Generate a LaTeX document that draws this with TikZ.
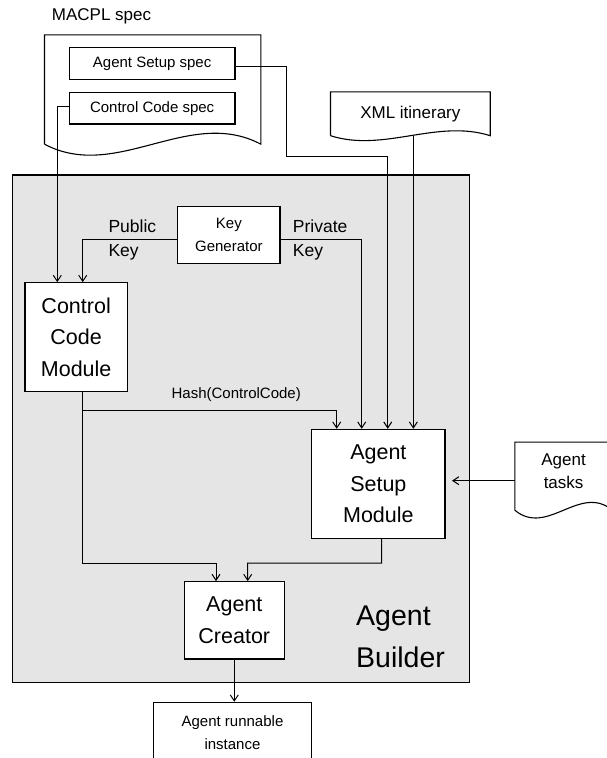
\documentclass[tikz,border=0pt]{standalone}
\usepackage{fontspec}
\setmainfont{Liberation Sans}
\usetikzlibrary{arrows.meta,calc}

\newcommand\txtS{\fontsize{15}{22.7}\selectfont}
\newcommand\txtD{\fontsize{17}{23.3}\selectfont}
\newcommand\txtK{\fontsize{17.5}{24.7}\selectfont}
\newcommand\txtM{\fontsize{21.5}{31.5}\selectfont}
\newcommand\txtB{\fontsize{28.5}{41.6}\selectfont}

% document outline with a wavy bottom: node, extra depth, wave control
\newcommand\docframe[3]{%
  \coordinate (#1-sw) at ([yshift=-#2pt]#1.south west);
  \coordinate (#1-se) at ([yshift=-#2pt]#1.south east);
  \draw[line width=1.1pt] (#1-sw) -- (#1.north west) -- (#1.north east) -- (#1-se)
    .. controls ($(#1-se)!0.333!(#1-sw)+(0,-#3)$) and ($(#1-se)!0.667!(#1-sw)+(0,#3)$) .. (#1-sw);
}

\begin{document}
\begin{tikzpicture}[x=1pt, y=-1pt,
        box/.style={draw, fill=white, line width=1.1pt, inner sep=0pt, align=center},
        docnode/.style={inner sep=0pt, align=center, font=\txtD},
        lbl/.style={inner sep=0pt, align=left, font=\txtK},
        arr/.style={-{Straight Barb[length=6pt,width=8pt]}, line width=1pt}]

    \useasboundingbox (0,0) rectangle (607,758);
    \clip (0,0) rectangle (607,758);

    \node[draw, fill=gray!20, line width=1.1pt, inner sep=0pt, minimum width=456.6, minimum height=507.5] (builder) at (241,428.75) {};
    \node[inner sep=0pt, align=left, font=\txtB, anchor=west] (buildlbl) at (356,637) {Agent\\Builder};

    \node[inner sep=0pt, font=\txtD, anchor=base west] (macpllbl) at (51.7,20.7) {MACPL spec};
    \node[docnode, minimum width=216, minimum height=109] (macpl) at (152.7,89.5) {};
    \docframe{macpl}{0}{38}
    \node[box, font=\txtS, minimum width=165.7, minimum height=31.6] (ass) at (152.15,63.5) {Agent Setup spec};
    \node[box, font=\txtS, minimum width=165.7, minimum height=31.3] (ccs) at (152.15,108.35) {Control Code spec};

    \node[docnode, minimum width=159.3, minimum height=43.5] (xml) at (410.35,113.75) {XML itinerary};
    \docframe{xml}{0}{17}
    \node[docnode, minimum width=97.2, minimum height=57.4] (tasks) at (563.6,471) {Agent\\tasks};
    \docframe{tasks}{10.3}{27}

    \node[box, font=\txtS, minimum width=102.3, minimum height=56.6] (kg)  at (228.85,235)  {Key\\Generator};
    \node[box, font=\txtM, minimum width=102.3, minimum height=109]  (ccm) at (76.15,337.2)  {Control\\Code\\Module};
    \node[box, font=\txtM, minimum width=133.3, minimum height=109]  (asm) at (378.35,483.8) {Agent\\Setup\\Module};
    \node[box, font=\txtM, minimum width=100, minimum height=77.3]   (ac)  at (234.3,620.35) {Agent\\Creator};
    \node[box, font=\txtS, minimum width=158.4, minimum height=61]   (runnable) at (232.5,732.8) {Agent runnable\\instance};

    \node[lbl, anchor=west] (pubkey)  at (108.3,239.9) {Public\\Key};
    \node[lbl, anchor=west] (privkey) at (292.7,239.9) {Private\\Key};
    \node[inner sep=0pt, font=\txtS, anchor=base] (hashlbl) at (236.2,398.3) {Hash(ControlCode)};

    \coordinate (bendA)    at (286,156);
    \coordinate (hashfork) at (82.7,410);
    \coordinate (joinL)    at (216,563);
    \coordinate (joinR)    at (381.7,563);
    \coordinate (tasksin)  at ([yshift=-9.7pt]tasks.west);

    \draw[arr] ([yshift=-3.2pt]ass.east) -| (bendA) -| ([xshift=9.4pt]asm.north);
    \draw[arr] ([yshift=2.3pt]ccs.west) -| ([xshift=-18.85pt]ccm.north);
    \draw[arr] ([xshift=3pt]xml.south) -- ([xshift=35pt]asm.north);
    \draw[arr] ([yshift=-4pt]kg.west) -| ([xshift=6.55pt]ccm.north);
    \draw[arr] ([yshift=-4pt]kg.east) -| ([xshift=-16.65pt]asm.north);
    \draw[arr] (hashfork) -| ([xshift=-41.65pt]asm.north);
    \draw[arr] ([xshift=6.55pt]ccm.south) |- (joinL) -- ([xshift=-18.3pt]ac.north);
    \draw[arr] ([xshift=3.35pt]asm.south) -- (joinR) -| ([xshift=13.4pt]ac.north);
    \draw[arr] (ac.south) -- (ac.south |- runnable.north);
    \draw[arr, shorten >=6.5pt] (tasksin) -- (tasksin -| asm.east);

\end{tikzpicture}
\end{document}
